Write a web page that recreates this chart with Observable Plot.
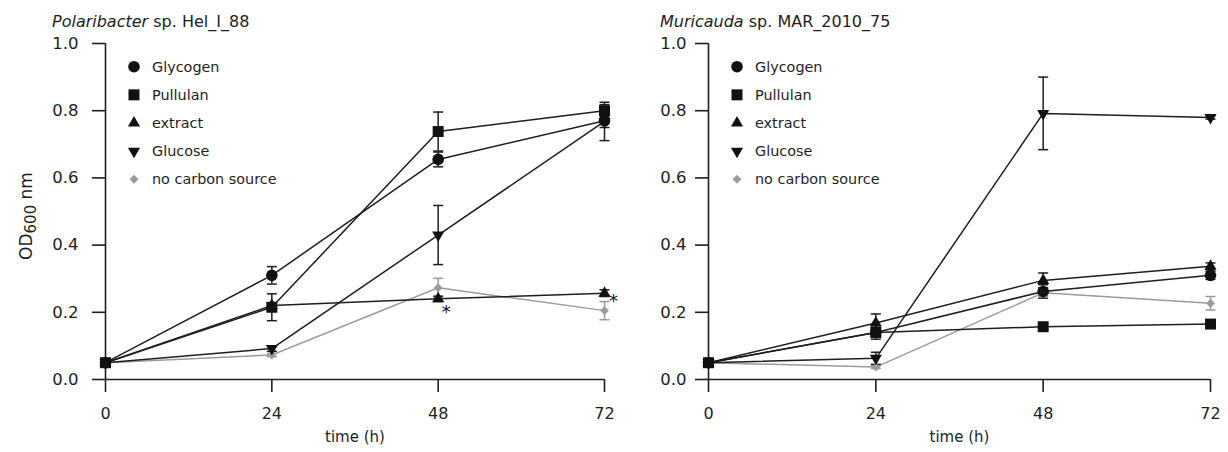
<!DOCTYPE html>
<html>
<head>
<meta charset="utf-8">
<script src="https://cdn.jsdelivr.net/npm/d3@7"></script>
<script src="https://cdn.jsdelivr.net/npm/@observablehq/plot@0.6"></script>
<style>
  body { margin: 0; background: #fff; font-family: "DejaVu Sans", sans-serif; color: #222; }
  #row { display: flex; width: 1228px; height: 452px; overflow: hidden; background: #fff; }
  .panel { width: 614px; position: relative; }
  .title { height: 32px; box-sizing: border-box; padding-top: 14px; font-size: 16px; line-height: 16px; white-space: nowrap; color: #1e1e1e; }
</style>
</head>
<body>
<div id="row"></div>
<script>
// ---------- data ----------
const times = [0, 24, 48, 72];
const yTicks = [0, 0.2, 0.4, 0.6, 0.8, 1.0];
const seriesNames = ["Glycogen", "Pullulan", "extract", "Glucose", "no carbon source"];

// Polaribacter sp. Hel_I_88 (OD600 means and SD)
const polGlycogen   = [0.05, 0.31, 0.655, 0.77];
const polGlycogenSd = [0, 0.026, 0.022, 0.02];
const polPullulan   = [0.05, 0.215, 0.738, 0.80];
const polPullulanSd = [0, 0.04, 0.058, 0.018];
const polExtract    = [0.05, 0.22, 0.24, 0.257];
const polExtractSd  = [0, 0.008, 0.008, 0.01];
const polGlucose    = [0.05, 0.092, 0.43, 0.768];
const polGlucoseSd  = [0, 0.008, 0.088, 0.057];
const polNone       = [0.05, 0.073, 0.273, 0.205];
const polNoneSd     = [0, 0.005, 0.028, 0.027];
const polStarsBelow = [{t: 48, series: "extract"}];
const polStarsRight = [{t: 72, series: "extract"}];

// Muricauda sp. MAR_2010_75
const murGlycogen   = [0.05, 0.14, 0.262, 0.31];
const murGlycogenSd = [0, 0.02, 0.02, 0.012];
const murPullulan   = [0.05, 0.14, 0.157, 0.165];
const murPullulanSd = [0, 0.008, 0.008, 0.008];
const murExtract    = [0.05, 0.168, 0.295, 0.337];
const murExtractSd  = [0, 0.027, 0.022, 0.01];
const murGlucose    = [0.05, 0.063, 0.792, 0.78];
const murGlucoseSd  = [0, 0.018, 0.108, 0.005];
const murNone       = [0.05, 0.037, 0.258, 0.227];
const murNoneSd     = [0, 0.004, 0.01, 0.02];

// ---------- styles ----------
const INK = "#1e1e1e";
const GREY = "#9b9b9b";
const seriesStyle = {
  "Glycogen":         {symbol: d3.symbolCircle,   r: 5.8, rotate: 0,   color: "#111"},
  "Pullulan":         {symbol: d3.symbolSquare,   r: 6.2, rotate: 0,   color: "#111"},
  "extract":          {symbol: d3.symbolTriangle, r: 4.5, rotate: 0,   color: "#111"},
  "Glucose":          {symbol: d3.symbolTriangle, r: 4.5, rotate: 180, color: "#111"},
  "no carbon source": {symbol: d3.symbolDiamond2, r: 4.0, rotate: 0,   color: GREY}
};
const lineColor = {"Glycogen": INK, "Pullulan": INK, "extract": INK, "Glucose": INK, "no carbon source": GREY};
const capSymbol = {draw(ctx) { ctx.moveTo(-5, 0); ctx.lineTo(5, 0); }};

function buildRows(valueLists, sdLists) {
  const rows = [];
  seriesNames.forEach((name, i) => {
    times.forEach((t, j) => rows.push({series: name, t, v: valueLists[i][j], e: sdLists[i][j]}));
  });
  return rows;
}

const polRows = buildRows(
  [polGlycogen, polPullulan, polExtract, polGlucose, polNone],
  [polGlycogenSd, polPullulanSd, polExtractSd, polGlucoseSd, polNoneSd]);
const murRows = buildRows(
  [murGlycogen, murPullulan, murExtract, murGlucose, murNone],
  [murGlycogenSd, murPullulanSd, murExtractSd, murGlucoseSd, murNoneSd]);

function lookup(rows, s) { return rows.find(r => r.series === s.series && r.t === s.t).v; }

function makePanel(cfg) {
  const {rows, titleHTML, titleIndent, marginLeft, marginRight, yPad, starsBelow, starsRight, yLabel} = cfg;
  const div = document.createElement("div");
  div.className = "panel";
  const title = document.createElement("div");
  title.className = "title";
  title.style.paddingLeft = titleIndent + "px";
  title.innerHTML = titleHTML;
  div.appendChild(title);

  const marks = [
    Plot.axisX({ticks: times, tickSize: 13, tickPadding: 15, tickFormat: d => String(d), label: null,
                stroke: INK, strokeWidth: 1.6, fill: INK, fontSize: 16}),
    Plot.axisY({ticks: yTicks, tickSize: 13, tickPadding: yPad, tickFormat: d3.format(".1f"), label: null,
                stroke: INK, strokeWidth: 1.6, fill: INK, fontSize: 16.5}),
    Plot.ruleX([0], {stroke: INK, strokeWidth: 1.6}),
    Plot.ruleY([0], {stroke: INK, strokeWidth: 1.6})
  ];
  // lines (grey first so black lines sit on top)
  const order = ["no carbon source", "Glucose", "extract", "Pullulan", "Glycogen"];
  for (const name of order) {
    marks.push(Plot.line(rows.filter(d => d.series === name), {x: "t", y: "v", stroke: lineColor[name], strokeWidth: 1.5}));
  }
  // error bars
  for (const name of order) {
    const er = rows.filter(d => d.series === name && d.e > 0);
    const c = lineColor[name];
    marks.push(Plot.ruleX(er, {x: "t", y1: d => d.v - d.e, y2: d => d.v + d.e, stroke: c, strokeWidth: 1.5}));
    marks.push(Plot.dot(er, {x: "t", y: d => d.v + d.e, symbol: capSymbol, fill: "none", stroke: c, strokeWidth: 1.5}));
    marks.push(Plot.dot(er, {x: "t", y: d => d.v - d.e, symbol: capSymbol, fill: "none", stroke: c, strokeWidth: 1.5}));
  }
  // markers
  for (const name of order) {
    const st = seriesStyle[name];
    marks.push(Plot.dot(rows.filter(d => d.series === name), {x: "t", y: "v", symbol: st.symbol, r: st.r, rotate: st.rotate, fill: st.color, stroke: "none"}));
  }
  // significance asterisks
  if (starsBelow) marks.push(Plot.text(starsBelow, {x: "t", y: s => lookup(rows, s), text: () => "*", dx: 8, dy: 13, fontSize: 18, fill: "#111"}));
  if (starsRight) marks.push(Plot.text(starsRight, {x: "t", y: s => lookup(rows, s), text: () => "*", dx: 9, dy: 8, fontSize: 18, fill: "#111"}));
  // x-axis label
  marks.push(Plot.text(["time (h)"], {frameAnchor: "bottom", dy: 62, text: d => d, fontSize: 15, fill: INK}));

  const chart = Plot.plot({
    width: 614, height: 420,
    marginTop: 11, marginBottom: 73, marginLeft, marginRight,
    x: {domain: [0, 72]},
    y: {domain: [0, 1]},
    style: {fontFamily: "DejaVu Sans, sans-serif", fontSize: "16px", color: INK, background: "transparent", overflow: "visible"},
    marks
  });

  const svg = d3.select(chart);
  // legend inside plot area
  const lx = marginLeft + 29;
  const lg = svg.append("g").attr("text-anchor", "start");
  seriesNames.forEach((name, i) => {
    const st = seriesStyle[name];
    const y = 34.7 + i * 28.15;
    lg.append("path")
      .attr("transform", `translate(${lx},${y}) rotate(${st.rotate})`)
      .attr("d", d3.symbol(st.symbol, Math.PI * st.r * st.r)())
      .attr("fill", st.color);
    lg.append("text")
      .attr("x", lx + 18).attr("y", y).attr("dy", "0.35em")
      .attr("text-anchor", "start")
      .attr("fill", INK).style("font-size", "14.4px")
      .text(name);
  });
  // y-axis label with subscript
  if (yLabel) {
    const t = svg.append("text")
      .attr("transform", "translate(32,184) rotate(-90)")
      .attr("text-anchor", "middle").attr("fill", INK).style("font-size", "17px");
    t.append("tspan").text("OD");
    t.append("tspan").attr("dy", 4).style("font-size", "15px").text("600");
    t.append("tspan").attr("dy", -4).text(" nm");
  }
  div.appendChild(chart);
  return div;
}

const row = document.getElementById("row");
row.appendChild(makePanel({
  rows: polRows, titleHTML: "<i>Polaribacter</i> sp. Hel_I_88", titleIndent: 52,
  marginLeft: 105, marginRight: 10, yPad: 14, starsBelow: polStarsBelow, starsRight: polStarsRight, yLabel: true
}));
row.appendChild(makePanel({
  rows: murRows, titleHTML: "<i>Muricauda</i> sp. MAR_2010_75", titleIndent: 46,
  marginLeft: 94, marginRight: 18, yPad: 9, yLabel: false
}));
</script>
</body>
</html>
